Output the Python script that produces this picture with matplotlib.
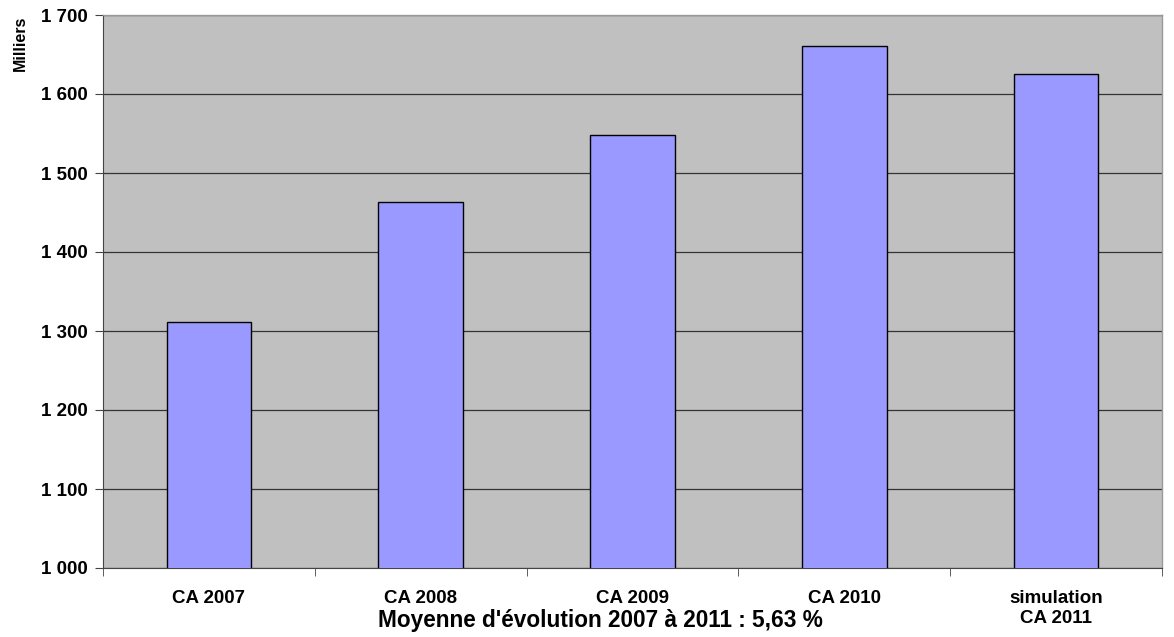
import numpy as np
import matplotlib.pyplot as plt

plt.rcParams['font.family'] = ['Liberation Sans', 'DejaVu Sans']
plt.rcParams['font.weight'] = 'bold'

categories = ["CA 2007", "CA 2008", "CA 2009", "CA 2010", "simulation\nCA 2011"]
values = [1311, 1463, 1548, 1661, 1625]
yticks = [1000, 1100, 1200, 1300, 1400, 1500, 1600, 1700]
ylabels = ["1 000", "1 100", "1 200", "1 300", "1 400", "1 500", "1 600", "1 700"]

fig = plt.figure(figsize=(11.74, 6.37), dpi=100)
ax = fig.add_axes([103/1174, 1-568/637, (1162-103)/1174, (568-15)/637])
ax.set_facecolor('#c0c0c0')

x = np.arange(len(categories))
ax.bar(x, values, width=0.4, bottom=0, color='#9999ff', edgecolor='black', linewidth=1, zorder=3)
ax.set_xlim(-0.5, len(categories)-0.5)
ax.set_ylim(1000, 1700)
ax.set_yticks(yticks)
ax.set_yticklabels(ylabels, fontsize=13.5, fontweight='bold')
ax.yaxis.grid(True, color='#333333', linewidth=0.9, zorder=1)
ax.set_axisbelow(True)

ax.set_xticks(x)
ax.set_xticklabels(categories, fontsize=13.5, fontweight='bold', linespacing=1.25)
ax.tick_params(axis='x', length=0, pad=16)
ax.set_xticks(np.arange(len(categories)+1)-0.5, minor=True)
ax.tick_params(axis='x', which='minor', length=6, direction='out', color='#444444')
ax.tick_params(axis='y', length=6, direction='out', color='#444444', pad=5)

for s in ['top', 'right']:
    ax.spines[s].set_color('#999999')
    ax.spines[s].set_linewidth(1.0)
ax.spines['left'].set_color('#444444')
ax.spines['bottom'].set_color('#444444')

fig.text(20/1174, 1-43/637, "Milliers", rotation=90, fontsize=11.5, fontweight='bold',
         ha='center', va='center')
fig.text(600/1174, 1-621/637, "Moyenne d'évolution 2007 à 2011 : 5,63 %", fontsize=16.3,
         fontweight='bold', ha='center', va='center')

fig.savefig("out.png", dpi=100)
